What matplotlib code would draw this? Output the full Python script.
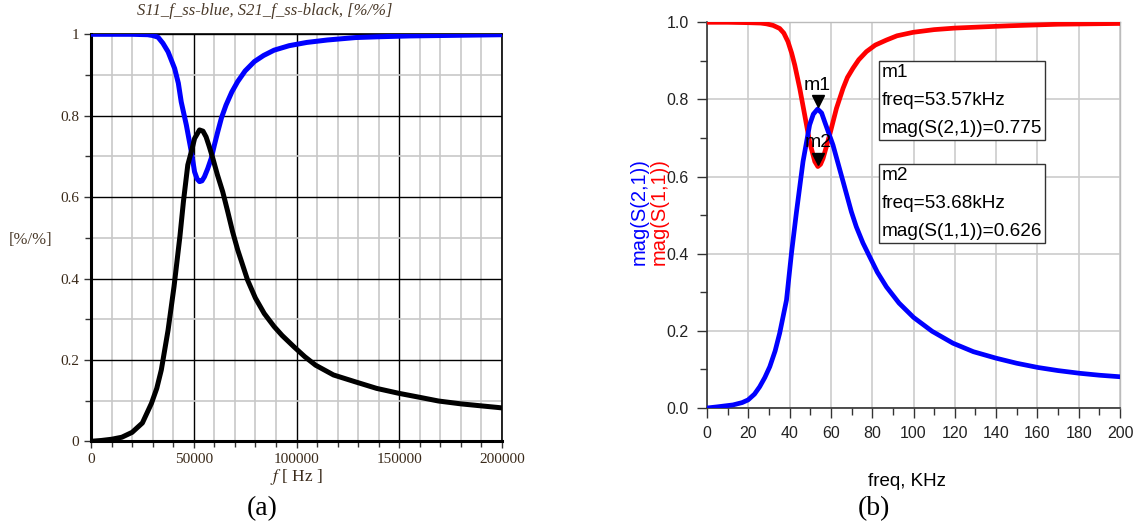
import numpy as np
import matplotlib
matplotlib.use("Agg")
import matplotlib.pyplot as plt
from matplotlib.ticker import MultipleLocator
from matplotlib.transforms import offset_copy

# ---------------- data (a) ----------------
fa_s21 = [0, 5000, 10000, 15000, 20000, 25000, 29400, 32000, 34200, 37500, 40400, 43300,
          45000, 47100, 49000, 50400, 52800, 54500, 56000, 57500, 59300, 61500, 64100,
          66500, 68900, 71400, 76200, 80000, 84300, 89100, 93000, 98800, 104000, 109300,
          118000, 128700, 139000, 149700, 160000, 169100, 180000, 190000, 198200, 200000]
va_s21 = [0.0, 0.002, 0.005, 0.01, 0.022, 0.045, 0.093, 0.13, 0.175, 0.273, 0.38, 0.505,
          0.59, 0.679, 0.715, 0.744, 0.765, 0.762, 0.748, 0.725, 0.695, 0.655, 0.613,
          0.565, 0.515, 0.47, 0.396, 0.352, 0.314, 0.282, 0.26, 0.232, 0.208, 0.187,
          0.163, 0.146, 0.13, 0.118, 0.108, 0.099, 0.092, 0.087, 0.083, 0.082]

fa_s11 = [0, 10000, 20000, 27600, 30000, 32600, 35000, 37500, 40700, 42500, 43900, 46400,
          48800, 50400, 51600, 52800, 54000, 55200, 56800, 58500, 60000, 61700, 63500,
          65700, 68500, 71400, 75000, 79500, 84000, 89100, 96400, 105000, 115000, 128700,
          140000, 155000, 170000, 185000, 200000]
va_s11 = [1.0, 1.0, 1.0, 0.999, 0.997, 0.993, 0.978, 0.957, 0.916, 0.88, 0.834, 0.777,
          0.712, 0.662, 0.645, 0.638, 0.64, 0.65, 0.67, 0.695, 0.727, 0.761, 0.795,
          0.826, 0.858, 0.884, 0.91, 0.933, 0.948, 0.961, 0.972, 0.98, 0.986, 0.992,
          0.994, 0.996, 0.997, 0.998, 0.999]

# ---------------- data (b) ----------------
fb_s11 = [0, 10, 20, 26, 28.8, 32, 35.2, 37.2, 39.2, 41, 42.5, 44.9, 47.3, 49.7, 52.2,
          53.68, 55, 56.2, 59.4, 62.7, 65.9, 68, 70.7, 73.5, 77.2, 81.5, 86.9, 92, 99.8,
          110, 120, 133, 146.6, 170, 200]
vb_s11 = [1.0, 1.0, 0.999, 0.998, 0.996, 0.992, 0.984, 0.972, 0.95, 0.92, 0.889, 0.829,
          0.76, 0.69, 0.639, 0.626, 0.632, 0.647, 0.708, 0.777, 0.829, 0.857, 0.881,
          0.903, 0.924, 0.941, 0.954, 0.965, 0.974, 0.981, 0.985, 0.988, 0.991, 0.995,
          0.997]

fb_s21 = [0, 5, 12.6, 17, 19.9, 23, 25.5, 28, 30.4, 33, 35.2, 38.5, 40.9, 43.3, 46.5,
          49.7, 51.5, 53.57, 55.5, 57.0, 61.0, 65.9, 69.9, 72.3, 75.5, 78.8, 82.5, 86.9,
          93, 100, 109, 119.1, 129, 140.1, 150, 160.3, 170, 180.5, 190, 200]
vb_s21 = [0.0, 0.003, 0.008, 0.014, 0.021, 0.036, 0.055, 0.079, 0.107, 0.148, 0.194,
          0.28, 0.401, 0.507, 0.639, 0.734, 0.762, 0.775, 0.765, 0.742, 0.682, 0.587,
          0.509, 0.47, 0.428, 0.392, 0.352, 0.314, 0.272, 0.235, 0.199, 0.168, 0.146,
          0.129, 0.116, 0.105, 0.097, 0.09, 0.085, 0.081]

m1_freq, m1_val = 53.57, 0.775
m2_freq, m2_val = 53.68, 0.626

xa_ticks = [0, 50000, 100000, 150000, 200000]
ya_ticks = [0, 0.2, 0.4, 0.6, 0.8, 1.0]
ya_labels = ["0", "0.2", "0.4", "0.6", "0.8", "1"]
xb_ticks = list(range(0, 201, 20))
yb_ticks = [0.0, 0.2, 0.4, 0.6, 0.8, 1.0]

W, H = 1134, 525
plt.rcParams['mathtext.fontset'] = 'stix'
fig = plt.figure(figsize=(W / 100, H / 100), dpi=100)

def fx(px):
    return px / W

def fy(py):
    return 1 - py / H

serif = ['Liberation Serif', 'DejaVu Serif']
sans = ['Liberation Sans', 'DejaVu Sans']

# ================= panel (a) =================
axa = fig.add_axes([fx(91), fy(441.3), (502 - 91) / W, (441.3 - 34.3) / H])
axa.set_xlim(0, 200000)
axa.set_ylim(0, 1)
axa.xaxis.set_minor_locator(MultipleLocator(10000))
axa.yaxis.set_minor_locator(MultipleLocator(0.1))
axa.set_xticks(xa_ticks)
axa.set_xticklabels([str(t) for t in xa_ticks])
axa.set_yticks(ya_ticks)
axa.set_yticklabels(ya_labels)
axa.grid(which='minor', color='#c8c8c8', lw=1.2, zorder=0)
axa.grid(which='major', color='black', lw=1.0, zorder=0.5)
axa.set_axisbelow(True)
axa.plot(fa_s11, va_s11, color='#0000ff', lw=3.6, solid_joinstyle='round', zorder=3)
axa.plot(fa_s21, va_s21, color='black', lw=3.6, solid_joinstyle='round', zorder=3)
for s in ['left', 'bottom']:
    axa.spines[s].set_linewidth(2.2)
for s in ['top', 'right']:
    axa.spines[s].set_linewidth(1.2)
axa.tick_params(which='both', direction='out', length=4, width=1, colors='#333333')
axa.tick_params(which='major', length=5)
for lab in axa.get_xticklabels() + axa.get_yticklabels():
    lab.set_fontfamily(serif)
    lab.set_fontsize(11)
    lab.set_color('#3a2a1a')
axa.set_xlabel(r'$f$ [ Hz ]', fontsize=12.5, family=serif, color='#3a2a1a', labelpad=1)
fig.text(fx(265), fy(11), 'S11_f_ss-blue, S21_f_ss-black, [%/%]', ha='center', va='center',
         fontsize=12, family=serif, style='italic', color='#4a3a2a')
fig.text(fx(31), fy(240), '[%/%]', ha='center', va='center', fontsize=12, family=serif,
         color='#4a3a2a')
fig.text(fx(262), fy(509), '(a)', ha='center', va='center', fontsize=20, family=serif)

# ================= panel (b) =================
axb = fig.add_axes([fx(707), fy(408), (1120 - 707) / W, (408 - 22.3) / H])
axb.set_xlim(0, 200)
axb.set_ylim(0, 1)
axb.set_xticks(xb_ticks)
axb.set_yticks(yb_ticks)
axb.set_yticklabels([f"{t:.1f}" for t in yb_ticks])
axb.xaxis.set_minor_locator(MultipleLocator(10))
axb.yaxis.set_minor_locator(MultipleLocator(0.1))
axb.grid(which='major', color='#cccccc', lw=1.2)
axb.set_axisbelow(True)
axb.plot(fb_s11, vb_s11, color='#ff0000', lw=3.4, solid_joinstyle='round', zorder=3)
axb.plot(fb_s21, vb_s21, color='#0000ff', lw=3.4, solid_joinstyle='round', zorder=3)
for s in ['left', 'bottom']:
    axb.spines[s].set_color('#333333')
    axb.spines[s].set_linewidth(1.2)
for s in ['top', 'right']:
    axb.spines[s].set_color('#bbbbbb')
    axb.spines[s].set_linewidth(1.0)
axb.tick_params(which='major', direction='out', length=7, width=1, colors='#333333', pad=6)
axb.tick_params(which='minor', direction='out', length=5, width=1, colors='#333333')
for lab in axb.get_xticklabels() + axb.get_yticklabels():
    lab.set_fontfamily(sans)
    lab.set_fontsize(11.5)
    lab.set_color('#222222')

# markers
ms = 9
trans = offset_copy(axb.transData, fig=fig, y=ms / 2 + 1, units='points')
axb.plot([m1_freq], [m1_val], marker='v', ms=ms, color='black', transform=trans, zorder=5,
         clip_on=False)
axb.plot([m2_freq], [m2_val], marker='v', ms=ms, color='black', transform=trans, zorder=5,
         clip_on=False)
axb.annotate('m1', (m1_freq, m1_val), xytext=(0, 11), textcoords='offset points',
             ha='center', va='bottom', fontsize=14, family=sans, zorder=6)
axb.annotate('m2', (m2_freq, m2_val), xytext=(0, 11), textcoords='offset points',
             ha='center', va='bottom', fontsize=14, family=sans, zorder=6)

box_kw = dict(boxstyle='square,pad=0.15', fc='white', ec='#333333', lw=1.0)
txt1 = f"m1\nfreq={m1_freq:.2f}kHz\nmag(S(2,1))={m1_val:.3f}"
txt2 = f"m2\nfreq={m2_freq:.2f}kHz\nmag(S(1,1))={m2_val:.3f}"
for txt, ytop in [(txt1, 0.893), (txt2, 0.625)]:
    axb.text(0.423, ytop, txt, transform=axb.transAxes, ha='left', va='top',
             fontsize=13.7, family=sans, linespacing=1.85, bbox=box_kw, zorder=6)

fig.text(fx(639), fy(212), 'mag(S(2,1))', rotation=90, ha='center', va='center',
         fontsize=14.5, family=sans, color='#0000ff')
fig.text(fx(659), fy(212), 'mag(S(1,1))', rotation=90, ha='center', va='center',
         fontsize=14.5, family=sans, color='#ff0000')
fig.text(fx(907), fy(482), 'freq, KHz', ha='center', va='center', fontsize=13.5,
         family=sans)
fig.text(fx(874), fy(509), '(b)', ha='center', va='center', fontsize=20, family=serif)

fig.savefig('out.png', dpi=100)
